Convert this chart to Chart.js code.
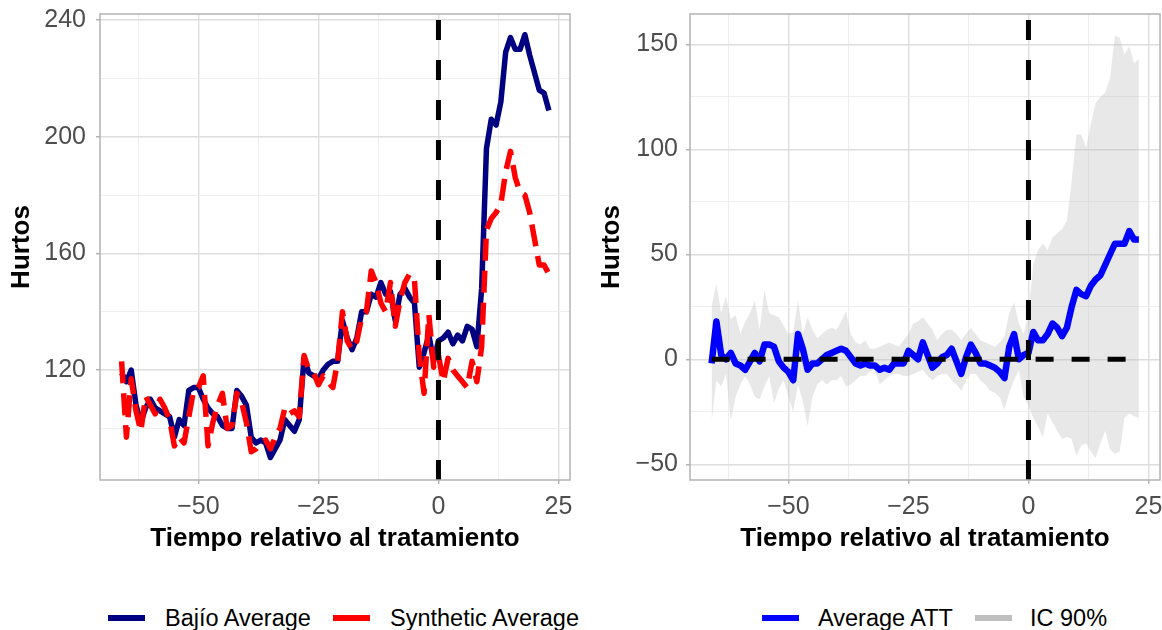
<!DOCTYPE html>
<html>
<head>
<meta charset="utf-8">
<script src="https://cdn.jsdelivr.net/npm/chart.js@4.4.1/dist/chart.umd.min.js"></script>
<style>
body { margin: 0; background: #fff; width: 1162px; height: 630px; overflow: hidden; position: relative; font-family: "Liberation Sans", Arial, sans-serif; }
#leftChart { position: absolute; left: 0; top: 0; }
#rightChart { position: absolute; left: 580px; top: 0; }
.leg-text { position: absolute; top: 604px; font-size: 23.5px; line-height: 28px; color: #000; white-space: nowrap; }
.leg-key { position: absolute; top: 615px; height: 6px; width: 37px; }
</style>
</head>
<body>
<canvas id="leftChart" width="580" height="560"></canvas>
<canvas id="rightChart" width="582" height="560"></canvas>

<div class="leg-key" style="left:108px;background:#000080"></div>
<div class="leg-text" style="left:165px">Bajío Average</div>
<div class="leg-key" style="left:333px;background:#ff0000"></div>
<div class="leg-text" style="left:390px">Synthetic Average</div>
<div class="leg-key" style="left:762px;background:#0000ff"></div>
<div class="leg-text" style="left:818px">Average ATT</div>
<div class="leg-key" style="left:975px;background:#bebebe"></div>
<div class="leg-text" style="left:1030px">IC 90%</div>

<script>
// tiempo relativo al tratamiento
var periods = [-66, -65, -64, -63, -62, -61, -60, -59, -58, -57, -56, -55, -54, -53, -52, -51, -50, -49, -48, -47,
    -46, -45, -44, -43, -42, -41, -40, -39, -38, -37, -36, -35, -34, -33, -32, -31, -30, -29, -28, -27,
    -26, -25, -24, -23, -22, -21, -20, -19, -18, -17, -16, -15, -14, -13, -12, -11, -10, -9, -8, -7,
    -6, -5, -4, -3, -2, -1, 0, 1, 2, 3, 4, 5, 6, 7, 8, 9, 10, 11, 12, 13,
    14, 15, 16, 17, 18, 19, 20, 21, 22, 23];

var bajioAverage = [119, 116, 120, 108, 102, 107, 110, 107, 106, 105, 104, 97, 103, 101, 113, 114, 114, 110, 107, 105,
    104, 101, 100, 100, 113, 111, 108, 97, 95, 96, 95, 90, 93, 96, 103, 101, 99, 103, 124, 119,
    118, 117, 120, 122, 123, 123, 137, 131, 127, 131, 140, 140, 146, 145, 150, 146, 147, 137, 146, 148,
    145, 143, 121, 126, 132, 123, 130, 131, 133, 129, 132, 130, 135, 134, 128, 148, 196, 206, 204, 212,
    229, 234, 230, 230, 235, 228, 222, 216, 215, 209];

var syntheticAverage = [123, 97, 117, 106, 99, 111, 108, 105, 110, 107, 103, 94, 97, 95, 104, 113, 114, 118, 94, 102,
    108, 112, 100, 101, 112, 109, 102, 92, 93, 95, 96, 93, 97, 100, 107, 105, 106, 104, 125, 120,
    119, 115, 118, 116, 114, 123, 140, 130, 127, 130, 138, 140, 154, 150, 143, 140, 150, 135, 144, 150,
    153, 151, 125, 112, 139, 121, 125, 116, 124, 120, 118, 116, 114, 123, 116, 128, 168, 172, 174, 177,
    188, 195, 186, 181, 180, 174, 165, 156, 156, 153];

var averageATT = [-2, 18, 2, 0, 3, -2, -3, -5, -1, 3, -1, 7, 7, 6, -1, -4, -6, -10, 12, 5,
    -5, -2, -2, 0, 2, 3, 4, 5, 4, 1, -2, -3, -2, -3, -3, -5, -4, -5, -2, -2,
    -2, 4, 2, 0, 8, 2, -4, -2, 1, 2, 5, -1, -7, 1, 7, 3, -2, -2, -3, -4,
    -6, -9, 6, 12, 0, 2, 3, 13, 9, 9, 12, 17, 15, 11, 15, 25, 33, 31, 30, 35,
    38, 40, 45, 50, 55, 55, 55, 61, 57, 57];

var ciLower = [-30, -10, -13, -7, -29, -18, -12, -8, -12, -18, -19, -13, -8, -21, -14, -10, -18, -25, -12, -20,
    -32, -18, -12, -10, -12, -10, -10, -8, -13, -12, -10, -8, -8, -6, -5, -12, -10, -8, -7, -7,
    -8, -8, -7, -6, -5, -8, -10, -8, -7, -7, -10, -12, -15, -10, -7, -7, -10, -12, -15, -16,
    -18, -24, -16, -10, -5, -18, -22, -28, -32, -37, -26, -30, -34, -38, -37, -38, -46, -41, -40, -44,
    -47, -40, -34, -43, -45, -44, -28, -26, -27, -28];

var ciUpper = [25, 36, 22, 30, 19, 21, 12, 18, 22, 28, 14, 33, 22, 21, 20, 16, 12, 13, 28, 12,
    20, 14, 10, 12, 14, 15, 14, 18, 23, 12, 8, 7, 9, 5, 5, 6, 7, 8, 7, 6,
    9, 12, 17, 18, 20, 17, 14, 9, 12, 14, 14, 12, 9, 12, 15, 12, 9, 8, 7, 6,
    8, 11, 22, 27, 17, 12, 22, 45, 52, 55, 52, 58, 60, 62, 66, 85, 107, 107, 101, 112,
    122, 125, 127, 134, 154, 153, 145, 149, 141, 143];

// ejes
var xTicksMajor = [-50, -25, 0, 25];
var xTicksMinor = [-62.5, -37.5, -12.5, 12.5];
var leftYMajor = [120, 160, 200, 240];
var leftYMinor = [100, 140, 180, 220];
var rightYMajor = [-50, 0, 50, 100, 150];
var rightYMinor = [-25, 25, 75, 125];

var xRange = [-70.5, 27.4];
var leftYRange = [82.3, 242.1];
var rightYRange = [-57.5, 164.4];

function toPoints(values) {
    return periods.map(function (t, i) {
        return { x: t, y: values[i] };
    });
}

function formatTick(v) {
    return v < 0 ? '\u2212' + Math.abs(v) : String(v);
}

var panelBorder = {
    id: 'panelBorder',
    afterDraw: function (chart) {
        var a = chart.chartArea;
        var ctx = chart.ctx;
        ctx.save();
        ctx.strokeStyle = '#b3b3b3';
        ctx.lineWidth = 1.5;
        ctx.strokeRect(a.left, a.top, a.right - a.left, a.bottom - a.top);
        ctx.restore();
    }
};

function makeScale(axis, range, major, minor, title, titlePad, fixedSize, tickPad) {
    var all = major.concat(minor).sort(function (a, b) { return a - b; });
    return {
        type: 'linear',
        min: range[0],
        max: range[1],
        afterBuildTicks: function (scale) {
            scale.ticks = all.map(function (v) { return { value: v }; });
        },
        afterFit: function (scale) {
            if (axis === 'x') {
                scale.height = fixedSize;
            } else {
                scale.width = fixedSize;
            }
            scale.paddingTop = 0;
            scale.paddingBottom = 0;
            scale.paddingLeft = 0;
            scale.paddingRight = 0;
        },
        border: { display: false },
        grid: {
            color: function (c) {
                return major.indexOf(c.tick.value) >= 0 ? '#dedede' : '#ececec';
            },
            lineWidth: function (c) {
                return major.indexOf(c.tick.value) >= 0 ? 1.4 : 0.9;
            },
            tickColor: function (c) {
                return major.indexOf(c.tick.value) >= 0 ? '#b3b3b3' : 'rgba(0,0,0,0)';
            },
            tickLength: 4,
            tickWidth: 1.5
        },
        ticks: {
            autoSkip: false,
            maxRotation: 0,
            padding: tickPad,
            color: '#4d4d4d',
            font: { family: 'Liberation Sans', size: 25 },
            callback: function (v) {
                return major.indexOf(v) >= 0 ? formatTick(v) : '';
            }
        },
        title: {
            display: true,
            text: title,
            color: '#000',
            padding: titlePad,
            font: { family: 'Liberation Sans', size: 26, weight: 'bold' }
        }
    };
}

function refLine(points, dash) {
    return {
        data: points,
        borderColor: '#000',
        borderWidth: 5,
        borderDash: dash,
        borderCapStyle: 'butt',
        pointRadius: 0,
        fill: false
    };
}

var commonOptions = {
    responsive: false,
    animation: false,
    events: [],
    plugins: { legend: { display: false }, tooltip: { enabled: false } }
};

new Chart(document.getElementById('leftChart'), {
    type: 'line',
    data: {
        datasets: [
            refLine([{ x: 0, y: leftYRange[0] }, { x: 0, y: leftYRange[1] }], [20, 20]),
            {
                label: 'Synthetic Average',
                data: toPoints(syntheticAverage),
                borderColor: '#ff0000',
                borderWidth: 5.5,
                borderDash: [22, 10],
                borderJoinStyle: 'round',
                pointRadius: 0,
                tension: 0
            },
            {
                label: 'Bajío Average',
                data: toPoints(bajioAverage),
                borderColor: '#000080',
                borderWidth: 5.5,
                borderJoinStyle: 'round',
                pointRadius: 0,
                tension: 0
            }
        ]
    },
    options: Object.assign({}, commonOptions, {
        layout: { padding: { top: 14, right: 10, left: 0, bottom: 0 } },
        scales: {
            x: makeScale('x', xRange, xTicksMajor, xTicksMinor, 'Tiempo relativo al tratamiento', { top: 0, bottom: 6 }, 80, 8),
            y: makeScale('y', leftYRange, leftYMajor, leftYMinor, 'Hurtos', { top: 6, bottom: 0 }, 100, 10)
        }
    }),
    plugins: [panelBorder]
});

new Chart(document.getElementById('rightChart'), {
    type: 'line',
    data: {
        datasets: [
            refLine([{ x: 0, y: rightYRange[0] }, { x: 0, y: rightYRange[1] }], [20, 20]),
            refLine([{ x: periods[0], y: 0 }, { x: periods[periods.length - 1], y: 0 }], [18, 18]),
            {
                label: 'Average ATT',
                data: toPoints(averageATT),
                borderColor: '#0000ff',
                borderWidth: 6.5,
                borderJoinStyle: 'round',
                pointRadius: 0,
                tension: 0
            },
            {
                label: 'IC 90% inferior',
                data: toPoints(ciLower),
                borderColor: 'rgba(0,0,0,0)',
                pointRadius: 0,
                fill: false,
                tension: 0
            },
            {
                label: 'IC 90%',
                data: toPoints(ciUpper),
                borderColor: 'rgba(0,0,0,0)',
                backgroundColor: 'rgba(190,190,190,0.35)',
                pointRadius: 0,
                fill: 3,
                tension: 0
            }
        ]
    },
    options: Object.assign({}, commonOptions, {
        layout: { padding: { top: 14, right: 2, left: 0, bottom: 0 } },
        scales: {
            x: makeScale('x', xRange, xTicksMajor, xTicksMinor, 'Tiempo relativo al tratamiento', { top: 0, bottom: 6 }, 80, 8),
            y: makeScale('y', rightYRange, rightYMajor, rightYMinor, 'Hurtos', { top: 16, bottom: 0 }, 110, 8)
        }
    }),
    plugins: [panelBorder]
});
</script>
</body>
</html>
